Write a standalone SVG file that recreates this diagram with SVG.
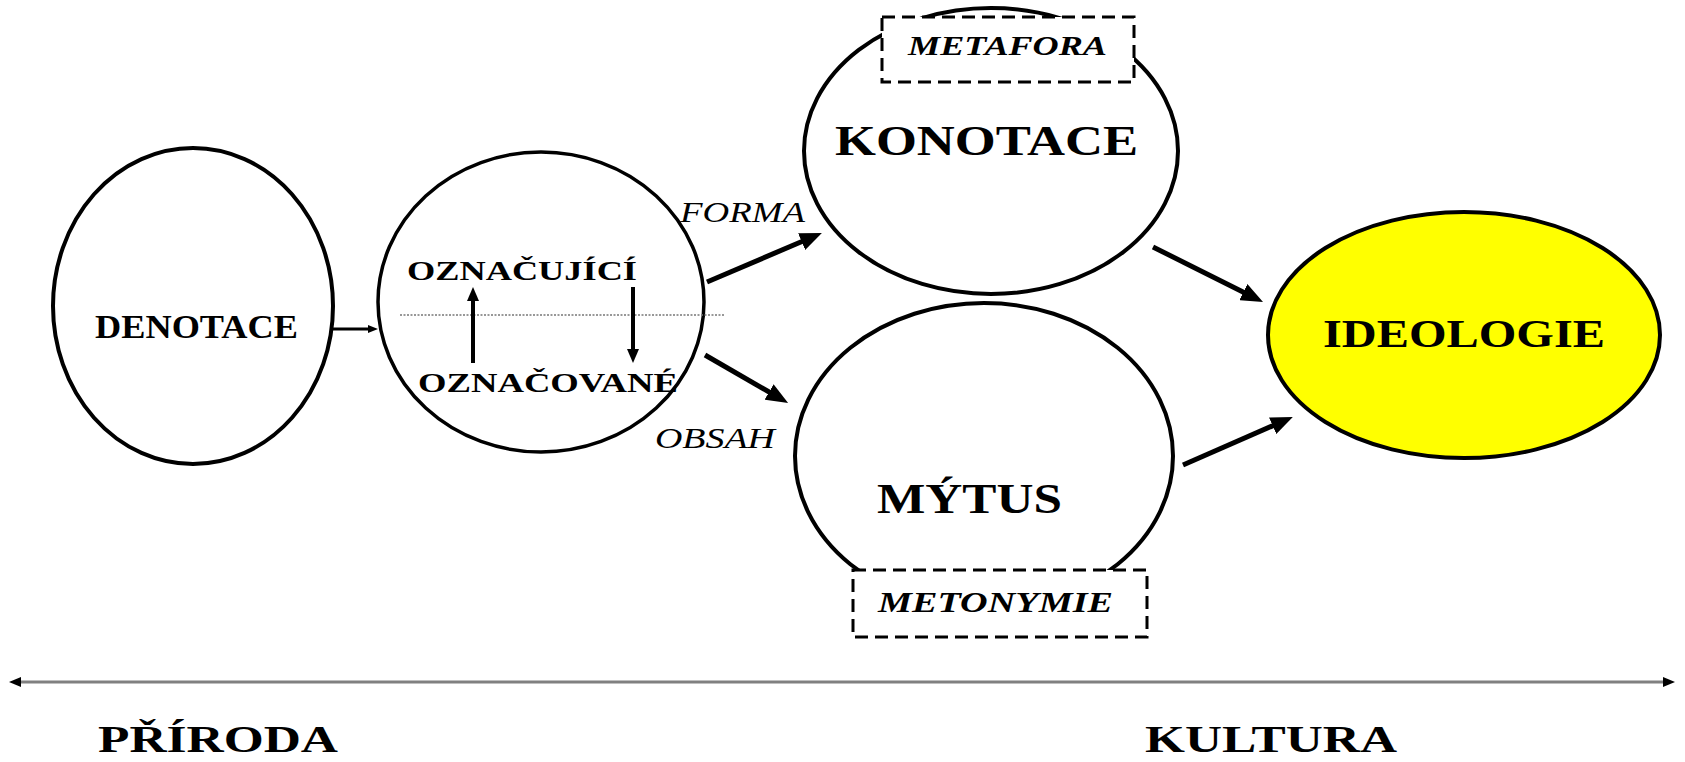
<svg xmlns="http://www.w3.org/2000/svg" width="1685" height="762" viewBox="0 0 1685 762">
<style>
.node{fill:#fff;stroke:#000;stroke-width:4}
.box{fill:#fff;stroke:#000;stroke-width:3;stroke-dasharray:13 7}
.t{font-family:"Liberation Serif","Times New Roman",serif;font-weight:bold;fill:#000}
.i{font-family:"Liberation Serif","Times New Roman",serif;font-style:italic;fill:#000}
.bi{font-family:"Liberation Serif","Times New Roman",serif;font-style:italic;font-weight:bold;fill:#000}
.big{stroke:#000;stroke-width:5;fill:none}
.mid{stroke:#000;stroke-width:4;fill:none}
</style>
<defs>
<marker id="mBig" viewBox="0 0 22 18" refX="8" refY="9" markerWidth="22" markerHeight="18" orient="auto" markerUnits="userSpaceOnUse"><path d="M0,0 L22,9 L0,18 z" fill="#000"/></marker>
<marker id="mMid" viewBox="0 0 14 12" refX="6" refY="6" markerWidth="14" markerHeight="12" orient="auto" markerUnits="userSpaceOnUse"><path d="M0,0 L14,6 L0,12 z" fill="#000"/></marker>
<marker id="mSm" viewBox="0 0 10 8" refX="4" refY="4" markerWidth="10" markerHeight="8" orient="auto" markerUnits="userSpaceOnUse"><path d="M0,0 L10,4 L0,8 z" fill="#000"/></marker>
<marker id="mAx" viewBox="0 0 12 10" refX="0" refY="5" markerWidth="12" markerHeight="10" orient="auto-start-reverse" markerUnits="userSpaceOnUse"><path d="M0,0 L12,5 L0,10 z" fill="#000"/></marker>
</defs>

<g id="denotace">
<ellipse class="node" cx="193" cy="306" rx="140" ry="158"/>
<text class="t" x="95" y="338" font-size="34" textLength="203" lengthAdjust="spacingAndGlyphs">DENOTACE</text>
</g>

<g id="znak">
<ellipse class="node" cx="541" cy="302" rx="163" ry="150" style="stroke-width:3.5"/>
<line x1="400" y1="315" x2="725" y2="315" stroke="#777" stroke-width="1.5" stroke-dasharray="2 1.5"/>
<text class="t" x="407" y="280" font-size="27" textLength="230" lengthAdjust="spacingAndGlyphs">OZNAČUJÍCÍ</text>
<text class="t" x="418" y="392" font-size="28" textLength="260" lengthAdjust="spacingAndGlyphs">OZNAČOVANÉ</text>
<line class="mid" x1="473" y1="363" x2="473" y2="295" marker-end="url(#mMid)"/>
<line class="mid" x1="633" y1="287" x2="633" y2="355" marker-end="url(#mMid)"/>
</g>

<g id="konotace">
<ellipse class="node" cx="991" cy="151" rx="187" ry="143"/>
<text class="t" x="835" y="155" font-size="42" textLength="303" lengthAdjust="spacingAndGlyphs">KONOTACE</text>
</g>
<g id="metafora">
<rect class="box" x="882" y="17" width="252" height="65"/>
<text class="bi" x="908" y="55" font-size="28" textLength="199" lengthAdjust="spacingAndGlyphs">METAFORA</text>
</g>

<g id="mytus">
<ellipse class="node" cx="984" cy="456" rx="189" ry="153"/>
<text class="t" x="877" y="513" font-size="42" textLength="185" lengthAdjust="spacingAndGlyphs">MÝTUS</text>
</g>
<g id="metonymie">
<rect class="box" x="853" y="570" width="294" height="67"/>
<text class="bi" x="878" y="612" font-size="30" textLength="235" lengthAdjust="spacingAndGlyphs">METONYMIE</text>
</g>

<g id="ideologie">
<ellipse cx="1464" cy="335" rx="196" ry="123" fill="#ffff00" stroke="#000" stroke-width="4"/>
<text class="t" x="1323" y="347" font-size="40" textLength="282" lengthAdjust="spacingAndGlyphs">IDEOLOGIE</text>
</g>

<g id="connectors">
<line x1="333" y1="329" x2="372" y2="329" stroke="#000" stroke-width="3" marker-end="url(#mSm)"/>
<line class="big" x1="707" y1="282" x2="809" y2="238.5" marker-end="url(#mBig)"/>
<line class="big" x1="705" y1="355" x2="776" y2="396" marker-end="url(#mBig)"/>
<line class="big" x1="1153" y1="247" x2="1250.5" y2="295.7" marker-end="url(#mBig)"/>
<line class="big" x1="1183" y1="465" x2="1280" y2="422.6" marker-end="url(#mBig)"/>
<text class="i" x="680" y="222" font-size="30" textLength="125" lengthAdjust="spacingAndGlyphs">FORMA</text>
<text class="i" x="655" y="448" font-size="30" textLength="120" lengthAdjust="spacingAndGlyphs">OBSAH</text>
</g>

<g id="axis">
<line x1="21" y1="682" x2="1663" y2="682" stroke="#808080" stroke-width="3" marker-start="url(#mAx)" marker-end="url(#mAx)"/>
<text class="t" x="98" y="752" font-size="38" textLength="240" lengthAdjust="spacingAndGlyphs">PŘÍRODA</text>
<text class="t" x="1145" y="752" font-size="38" textLength="252" lengthAdjust="spacingAndGlyphs">KULTURA</text>
</g>
</svg>
